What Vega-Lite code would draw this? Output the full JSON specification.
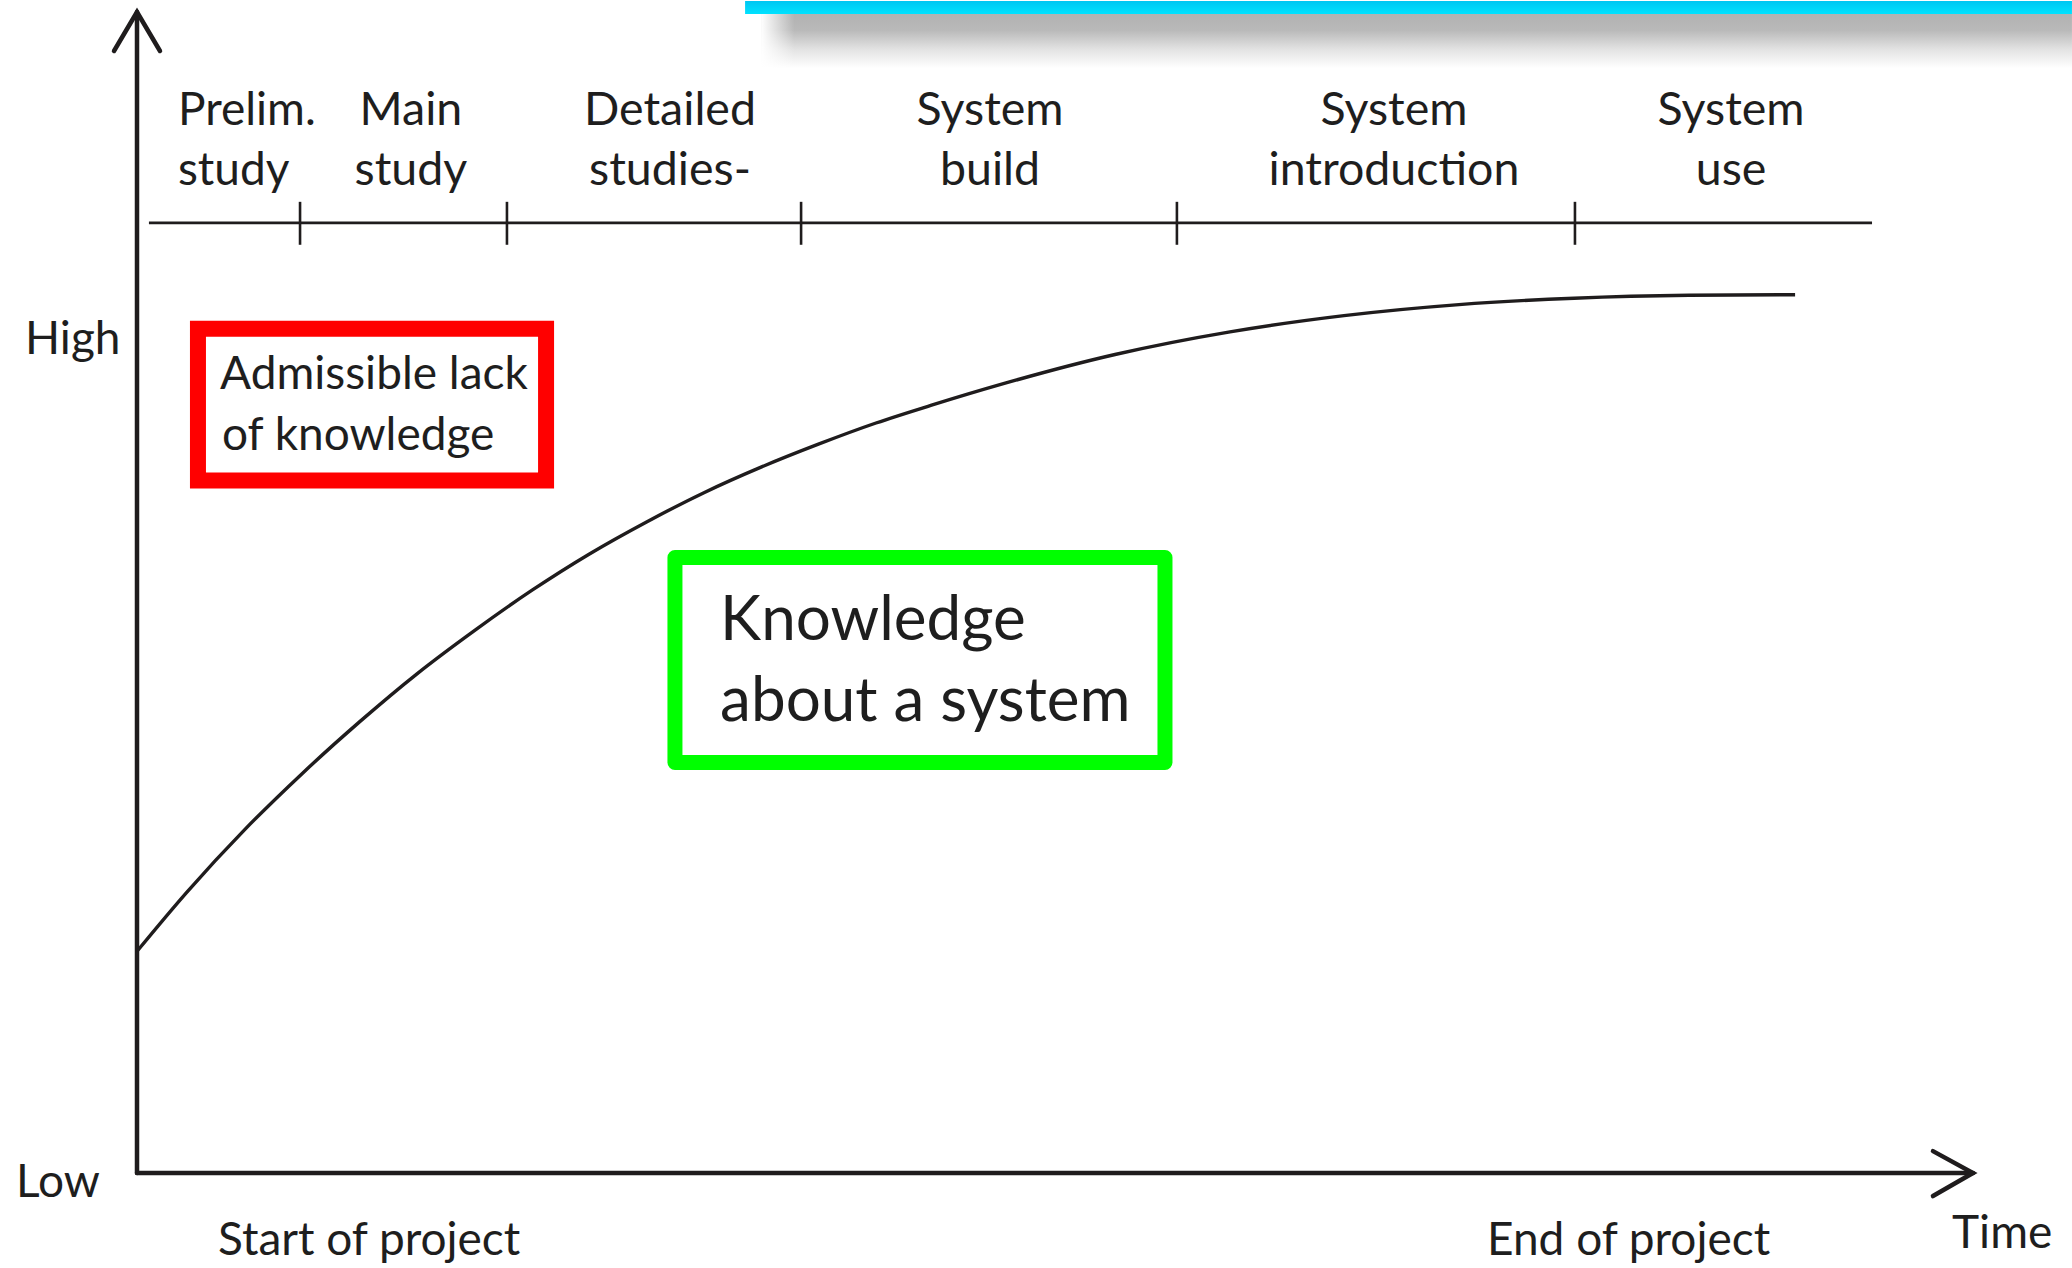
{
  "$schema": "https://vega.github.io/schema/vega-lite/v6.json",
  "width": 2072,
  "height": 1268,
  "autosize": {"type": "fit", "contains": "padding"},
  "padding": 0,
  "background": "#ffffff",
  "config": {"view": {"stroke": null}, "font": "Lato"},
  "datasets": {
    "shadow": [{"x": 33.99, "x2": 105.39, "y": 95.18, "y2": 99.83}],
    "shadowEdge": [{"x": 33.99, "x2": 35.8, "y": 95.18, "y2": 99.83}],
    "bar": [{"x": 33.12, "x2": 105.39, "y": 99.83, "y2": 100.95}],
    "axes": [
      {"x": 0, "x2": 0, "y": 0, "y2": 100},
      {"x": 0, "x2": 100, "y": 0, "y2": 0}
    ],
    "arrows": [
      {"arrow": "y", "o": 1, "x": -1.253, "y": 96.64},
      {"arrow": "y", "o": 2, "x": 0, "y": 100},
      {"arrow": "y", "o": 3, "x": 1.253, "y": 96.64},
      {"arrow": "x", "o": 1, "x": 97.82, "y": 1.89},
      {"arrow": "x", "o": 2, "x": 100, "y": 0},
      {"arrow": "x", "o": 3, "x": 97.82, "y": -1.98}
    ],
    "phaseLine": [
      {"x": 0.65, "x2": 94.5, "y": 81.84, "y2": 81.84},
      {"x": 8.88, "x2": 8.88, "y": 79.95, "y2": 83.65},
      {"x": 20.15, "x2": 20.15, "y": 79.95, "y2": 83.65},
      {"x": 36.17, "x2": 36.17, "y": 79.95, "y2": 83.65},
      {"x": 56.64, "x2": 56.64, "y": 79.95, "y2": 83.65},
      {"x": 78.32, "x2": 78.32, "y": 79.95, "y2": 83.65}
    ],
    "curve": [
      {"x": 0, "y": 19.1},
      {"x": 2.72, "y": 24.2},
      {"x": 5.88, "y": 29.6},
      {"x": 8.99, "y": 34.4},
      {"x": 12.15, "y": 38.9},
      {"x": 15.25, "y": 43.0},
      {"x": 18.36, "y": 46.7},
      {"x": 21.52, "y": 50.2},
      {"x": 24.62, "y": 53.3},
      {"x": 27.78, "y": 56.1},
      {"x": 30.88, "y": 58.6},
      {"x": 33.99, "y": 60.8},
      {"x": 37.15, "y": 62.8},
      {"x": 40.25, "y": 64.6},
      {"x": 43.41, "y": 66.2},
      {"x": 47.0, "y": 67.9},
      {"x": 53.27, "y": 70.5},
      {"x": 59.53, "y": 72.45},
      {"x": 65.74, "y": 73.85},
      {"x": 72.0, "y": 74.8},
      {"x": 78.27, "y": 75.35},
      {"x": 84.53, "y": 75.6},
      {"x": 90.31, "y": 75.65}
    ],
    "redBox": [{"x": 3.32, "x2": 22.28, "y": 59.64, "y2": 72.72}],
    "greenBox": [{"x": 29.3, "x2": 55.99, "y": 35.37, "y2": 53.01}],
    "labelsLeft": [
      {"x": 2.23, "y": 90.28, "label": "Prelim."},
      {"x": 2.23, "y": 85.11, "label": "study"},
      {"x": -6.59, "y": -2.07, "label": "Low"},
      {"x": 4.41, "y": -7.06, "label": "Start of  project"},
      {"x": 73.53, "y": -7.06, "label": "End of project"},
      {"x": 98.86, "y": -6.45, "label": "Time"},
      {"x": 4.52, "y": 67.56, "label": "Admissible lack"},
      {"x": 4.63, "y": 62.31, "label": "of knowledge"}
    ],
    "labelsCenter": [
      {"x": 14.92, "y": 90.28, "label": "Main"},
      {"x": 14.92, "y": 85.11, "label": "study"},
      {"x": 29.03, "y": 90.28, "label": "Detailed"},
      {"x": 29.03, "y": 85.11, "label": "studies-"},
      {"x": 46.46, "y": 90.28, "label": "System"},
      {"x": 46.46, "y": 85.11, "label": "build"},
      {"x": 68.46, "y": 90.28, "label": "System"},
      {"x": 68.46, "y": 85.11, "label": "introduction"},
      {"x": 86.82, "y": 90.28, "label": "System"},
      {"x": 86.82, "y": 85.11, "label": "use"}
    ],
    "labelsRight": [
      {"x": -0.9, "y": 70.57, "label": "High"}
    ],
    "labelsGreen": [
      {"x": 31.76, "y": 45.95, "label": "Knowledge"},
      {"x": 31.76, "y": 38.95, "label": "about a system"}
    ]
  },
  "encoding": {
    "x": {"field": "x", "type": "quantitative", "axis": null, "scale": {"domain": [-7.462, 105.392], "nice": false, "zero": false}},
    "y": {"field": "y", "type": "quantitative", "axis": null, "scale": {"domain": [-8.176, 100.946], "nice": false, "zero": false}}
  },
  "layer": [
    {
      "data": {"name": "shadow"},
      "mark": {"type": "rect", "color": {"gradient": "linear", "x1": 0, "y1": 0, "x2": 0, "y2": 1, "stops": [
        {"offset": 0, "color": "#b2b2b2"},
        {"offset": 0.3, "color": "#b9b9b9"},
        {"offset": 0.65, "color": "#e2e2e2"},
        {"offset": 1, "color": "#ffffff"}]}},
      "encoding": {"x2": {"field": "x2"}, "y2": {"field": "y2"}}
    },
    {
      "data": {"name": "shadowEdge"},
      "mark": {"type": "rect", "color": {"gradient": "linear", "x1": 0, "y1": 0, "x2": 1, "y2": 0, "stops": [
        {"offset": 0, "color": "rgba(255,255,255,1)"},
        {"offset": 1, "color": "rgba(255,255,255,0)"}]}},
      "encoding": {"x2": {"field": "x2"}, "y2": {"field": "y2"}}
    },
    {
      "data": {"name": "bar"},
      "mark": {"type": "rect", "color": {"gradient": "linear", "x1": 0, "y1": 0, "x2": 0, "y2": 1, "stops": [
        {"offset": 0, "color": "#00c6f2"},
        {"offset": 1, "color": "#00e2ff"}]}},
      "encoding": {"x2": {"field": "x2"}, "y2": {"field": "y2"}}
    },
    {
      "data": {"name": "axes"},
      "mark": {"type": "rule", "color": "#1f1c1d", "strokeWidth": 4.5, "strokeCap": "round"},
      "encoding": {"x2": {"field": "x2"}, "y2": {"field": "y2"}}
    },
    {
      "data": {"name": "arrows"},
      "mark": {"type": "line", "color": "#1f1c1d", "strokeWidth": 4.5, "strokeCap": "round", "strokeJoin": "miter"},
      "encoding": {"detail": {"field": "arrow"}, "order": {"field": "o"}}
    },
    {
      "data": {"name": "phaseLine"},
      "mark": {"type": "rule", "color": "#1f1c1d", "strokeWidth": 2.6},
      "encoding": {"x2": {"field": "x2"}, "y2": {"field": "y2"}}
    },
    {
      "data": {"name": "curve"},
      "mark": {"type": "line", "color": "#1f1c1d", "strokeWidth": 3.4, "interpolate": "monotone"},
      "encoding": {}
    },
    {
      "data": {"name": "redBox"},
      "mark": {"type": "rect", "fill": "#ffffff", "fillOpacity": 0, "stroke": "#ff0000", "strokeWidth": 16},
      "encoding": {"x2": {"field": "x2"}, "y2": {"field": "y2"}}
    },
    {
      "data": {"name": "greenBox"},
      "mark": {"type": "rect", "fill": "#ffffff", "fillOpacity": 0, "stroke": "#00ff00", "strokeWidth": 15, "strokeJoin": "round"},
      "encoding": {"x2": {"field": "x2"}, "y2": {"field": "y2"}}
    },
    {
      "data": {"name": "labelsLeft"},
      "mark": {"type": "text", "align": "left", "baseline": "alphabetic", "font": "Lato", "fontSize": 46, "color": "#1e1e1e"},
      "encoding": {"text": {"field": "label"}}
    },
    {
      "data": {"name": "labelsCenter"},
      "mark": {"type": "text", "align": "center", "baseline": "alphabetic", "font": "Lato", "fontSize": 46.5, "color": "#1e1e1e"},
      "encoding": {"text": {"field": "label"}}
    },
    {
      "data": {"name": "labelsRight"},
      "mark": {"type": "text", "align": "right", "baseline": "alphabetic", "font": "Lato", "fontSize": 46, "color": "#1e1e1e"},
      "encoding": {"text": {"field": "label"}}
    },
    {
      "data": {"name": "labelsGreen"},
      "mark": {"type": "text", "align": "left", "baseline": "alphabetic", "font": "Lato", "fontSize": 62, "color": "#1e1e1e"},
      "encoding": {"text": {"field": "label"}}
    }
  ]
}
